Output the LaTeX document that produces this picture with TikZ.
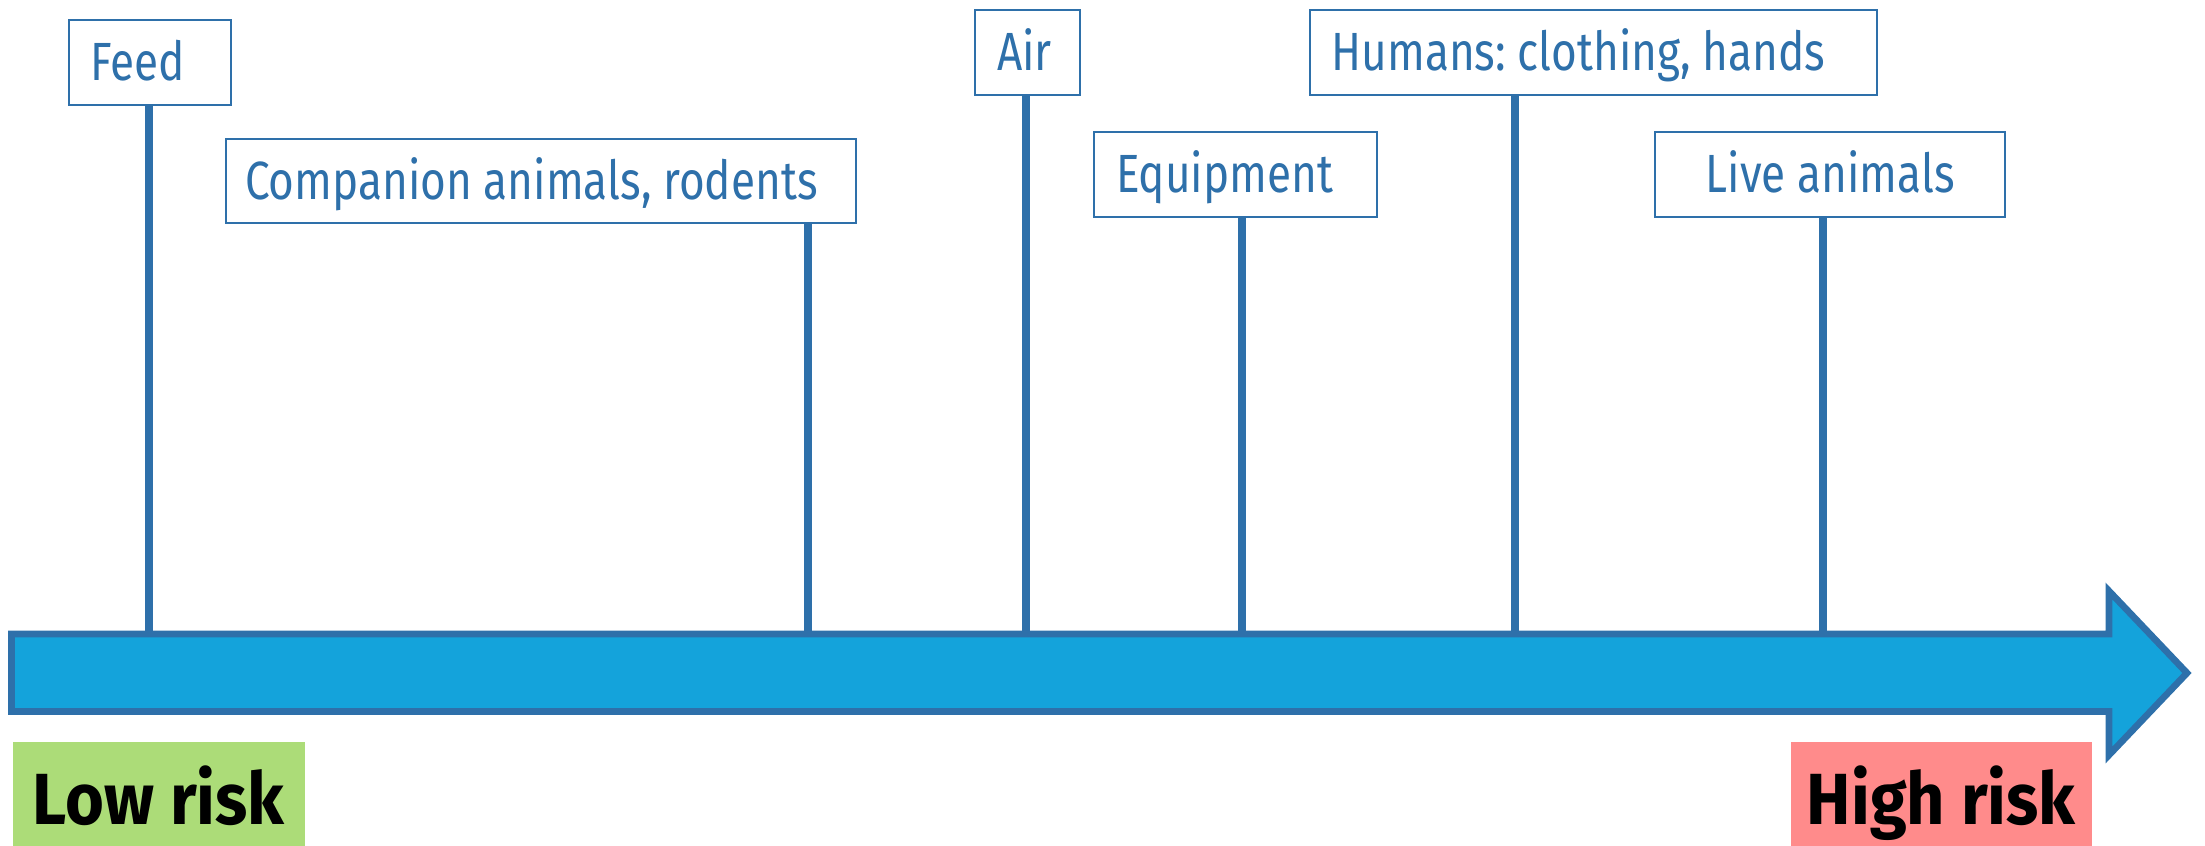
\documentclass[tikz,border=0pt]{standalone}
\usepackage{fontspec}
\setmainfont{Fira Sans}
\newfontfamily\srcfont[FakeStretch=0.82]{Fira Sans}
\newfontfamily\riskfont[FakeStretch=0.92]{Fira Sans}
\definecolor{srcblue}{RGB}{46,112,170}
\definecolor{barblue}{RGB}{20,163,219}
\definecolor{lowgreen}{RGB}{172,220,120}
\definecolor{highred}{RGB}{255,139,139}
\frenchspacing
\begin{document}
\begin{tikzpicture}[x=0.01cm, y=-0.01cm,
  src node/.style={draw=srcblue, line width=0.6pt, fill=white, text=srcblue, anchor=north west,
    font=\srcfont\fontsize{15.3}{16}\selectfont, inner xsep=0.22cm, text width=#1, align=flush left,
    minimum height=0.845cm, text height=0.37cm, text depth=0pt},
  risk node/.style={anchor=north west, inner sep=0pt, minimum height=1.04cm, minimum width=#1,
    font=\riskfont\bfseries\fontsize{20.6}{22}\selectfont, text height=0.61cm, text depth=0pt},
  stem/.style={draw=srcblue, line width=2.3pt},
  bar/.style={draw=srcblue, fill=barblue, line width=1.9pt, line join=miter}]
\useasboundingbox (0,0) rectangle (2205,845);
% the arrow
\draw[bar] (11.5,634) -- (2109,634) -- (2109,591) -- (2187,673) -- (2109,755) -- (2109,711.5) -- (11.5,711.5) -- cycle;
% where the stems hit the arrow
\coordinate (tfeed) at (149.3,631);
\coordinate (tpets) at (807.7,631);
\coordinate (tair) at (1025.8,631);
\coordinate (tequip) at (1241.8,631);
\coordinate (thumans) at (1515.4,631);
\coordinate (tlive) at (1823.4,631);
% sources
\node[src node=1.18cm] (feed) at (67.7,19) {Feed};
\node[src node=5.92cm, inner xsep=0.19cm] (pets) at (225,137.5) {Companion animals, rodents};
\node[src node=0.61cm] (air) at (974,9) {Air};
\node[src node=2.39cm] (equip) at (1093,131) {Equipment};
\node[src node=5.235cm] (humans) at (1308.5,9) {Humans: clothing, hands};
\node[src node=3.06cm, align=flush center] (live) at (1654,131) {Live animals};
\begin{scope}
\draw[stem] (tfeed) -- (tfeed |- feed.south);
\draw[stem] (tpets) -- (tpets |- pets.south);
\draw[stem] (tair) -- (tair |- air.south);
\draw[stem] (tequip) -- (tequip |- equip.south);
\draw[stem] (thumans) -- (thumans |- humans.south);
\draw[stem] (tlive) -- (tlive |- live.south);
\end{scope}
% risk ends
\node[risk node=2.92cm, fill=lowgreen] (low) at (12,741) {Low risk};
\node[risk node=3.01cm, fill=highred] (high) at (1790,741) {High risk};
\end{tikzpicture}
\end{document}
